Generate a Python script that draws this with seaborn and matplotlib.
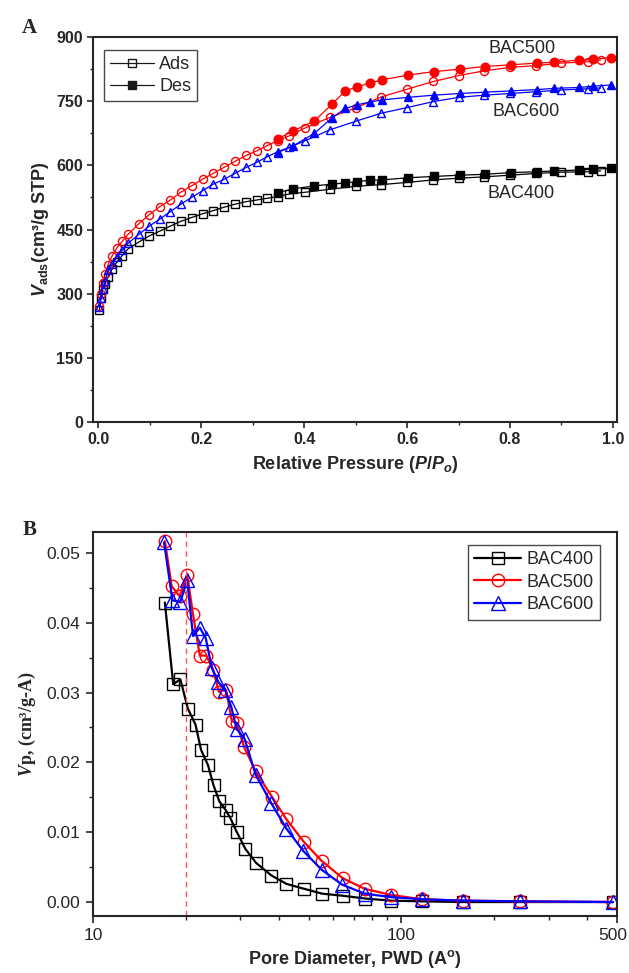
import matplotlib
matplotlib.use("Agg")
import matplotlib.pyplot as plt
import matplotlib.transforms as mtransforms
from matplotlib.lines import Line2D
from matplotlib.ticker import MultipleLocator, FixedLocator, NullFormatter, FormatStrFormatter, FuncFormatter
import seaborn as sns
import numpy as np

# ---------------- Panel A data (N2 isotherms) ----------------
ads_x = [0.002, 0.005, 0.008, 0.013, 0.019, 0.027, 0.036, 0.046, 0.058, 0.079, 0.099,
         0.119, 0.140, 0.160, 0.181, 0.203, 0.223, 0.244, 0.265, 0.287, 0.308, 0.328,
         0.349, 0.371, 0.401, 0.450, 0.500, 0.550, 0.600, 0.651, 0.701, 0.750, 0.800,
         0.850, 0.899, 0.951, 0.976]
bac400_ads = [261, 290, 312, 323, 340, 358, 374, 389, 405, 421, 435, 446, 458, 469, 478,
              487, 494, 502, 509, 515, 519, 523, 527, 533, 537, 544, 551, 555, 560, 566,
              570, 573, 577, 581, 584, 585, 587]
bac500_ads = [272, 300, 326, 345, 368, 389, 407, 422, 439, 464, 485, 503, 519, 537, 552,
              568, 581, 595, 609, 623, 634, 646, 658, 669, 687, 712, 734, 760, 778, 796,
              810, 821, 829, 833, 839, 842, 846]
bac600_ads = [270, 289, 310, 330, 355, 369, 386, 401, 418, 439, 458, 474, 492, 509, 525,
              541, 556, 567, 581, 595, 607, 620, 632, 642, 657, 683, 703, 722, 735, 749,
              759, 764, 768, 772, 776, 779, 781]

des_x = [0.349, 0.378, 0.420, 0.454, 0.480, 0.502, 0.527, 0.552, 0.602, 0.652, 0.703,
         0.751, 0.801, 0.852, 0.886, 0.934, 0.962, 0.997]
bac400_des = [536, 545, 552, 556, 559, 562, 565, 566, 571, 574, 577, 579, 583, 585, 587,
              589, 591, 593]
bac500_des = [662, 680, 704, 743, 774, 783, 792, 800, 811, 819, 825, 831, 835, 839, 841,
              846, 848, 852]
bac600_des = [630, 645, 675, 711, 733, 741, 748, 753, 759, 764, 768, 771, 774, 777, 780,
              782, 785, 788]

# ---------------- Panel B data (pore size distribution) ----------------
pwd_400 = [17.1, 18.2, 19.2, 20.3, 21.5, 22.4, 23.6, 24.6, 25.7, 26.9, 27.9, 29.2, 31.2,
           33.8, 37.9, 42.4, 48.3, 55.3, 64.6, 76.4, 92.7, 117, 158, 243, 485]
vp_400 = [0.0429, 0.0312, 0.0319, 0.0277, 0.0254, 0.0218, 0.0196, 0.0167, 0.0144, 0.0132,
          0.0120, 0.0101, 0.0076, 0.0056, 0.0038, 0.0026, 0.0019, 0.0012, 0.0009, 0.0005,
          0.0002, 0.0001, 0.0000, 0.0000, 0.0000]
pwd_500 = [17.1, 18.0, 19.1, 20.2, 21.1, 22.2, 23.3, 24.5, 25.6, 27.0, 28.2, 29.2, 30.9,
           33.7, 38.0, 42.3, 48.3, 55.1, 64.6, 76.0, 92.7, 117, 158, 243, 485]
vp_500 = [0.0517, 0.0452, 0.0438, 0.0469, 0.0412, 0.0353, 0.0353, 0.0333, 0.0301, 0.0304,
          0.0259, 0.0257, 0.0222, 0.0187, 0.0151, 0.0119, 0.0086, 0.0059, 0.0034, 0.0019,
          0.0010, 0.0004, 0.0002, 0.0001, 0.0000]
pwd_600 = [17.0, 18.1, 19.2, 20.2, 21.1, 22.2, 23.2, 24.3, 25.5, 26.8, 28.1, 29.2, 31.0,
           33.7, 37.8, 42.4, 48.1, 55.2, 64.2, 76.0, 92.7, 117, 158, 243, 485]
vp_600 = [0.0515, 0.0432, 0.0430, 0.0461, 0.0381, 0.0393, 0.0378, 0.0335, 0.0315, 0.0304,
          0.0279, 0.0248, 0.0234, 0.0182, 0.0142, 0.0105, 0.0073, 0.0046, 0.0025, 0.0012,
          0.0007, 0.0004, 0.0002, 0.0001, 0.0000]
dashed_x = 20
b_xticks = [10, 100, 500]

# ---------------- style ----------------
sns.set_theme(style="ticks")
plt.rcParams['font.family'] = ['Liberation Sans', 'DejaVu Sans']
plt.rcParams['mathtext.fontset'] = 'custom'
plt.rcParams['mathtext.rm'] = 'Liberation Sans:bold'
plt.rcParams['mathtext.it'] = 'Liberation Sans:italic:bold'
plt.rcParams['mathtext.bf'] = 'Liberation Sans:bold'
plt.rcParams['mathtext.sf'] = 'Liberation Serif:italic:bold'
plt.rcParams['axes.linewidth'] = 1.5

fig = plt.figure(figsize=(6.29, 9.73), dpi=100)
axA = fig.add_axes([93/629, 1-422/973, 524/629, 385/973])
axB = fig.add_axes([93/629, 1-916/973, 524/629, 384/973])

RED, BLUE, BLACK = '#ff0000', '#0000ff', '#000000'

def series(ax, x, y, color, marker, filled, ms, lw):
    sns.lineplot(x=x, y=y, ax=ax, color=color, lw=lw, marker=marker, ms=ms,
                 markerfacecolor=(color if filled else 'none'),
                 markeredgecolor=color, markeredgewidth=1.0,
                 errorbar=None, estimator=None, sort=False, legend=False)

# Panel A
for yv, c, m in [(bac400_ads, BLACK, 's'), (bac500_ads, RED, 'o'), (bac600_ads, BLUE, '^')]:
    series(axA, ads_x, yv, c, m, False, 5.8, 0.9)
for yv, c, m in [(bac400_des, BLACK, 's'), (bac500_des, RED, 'o'), (bac600_des, BLUE, '^')]:
    series(axA, des_x, yv, c, m, True, 6.2, 0.9)

axA.set_xlim(-0.0105, 1.008)
axA.set_ylim(0, 900)
axA.xaxis.set_major_locator(MultipleLocator(0.2))
axA.xaxis.set_minor_locator(MultipleLocator(0.1))
axA.xaxis.set_major_formatter(FormatStrFormatter('%.1f'))
axA.yaxis.set_major_locator(MultipleLocator(150))
axA.yaxis.set_minor_locator(MultipleLocator(75))
axA.tick_params(which='major', direction='out', length=4, width=1.2, labelsize=11.5, pad=3)
axA.tick_params(which='minor', direction='out', length=2.5, width=1.0)
for lab in axA.get_xticklabels() + axA.get_yticklabels():
    lab.set_fontweight('bold')
axA.set_xlabel(r"Relative Pressure ($\mathit{P/P}_{\mathit{o}}$)", fontsize=13,
               fontweight='bold', labelpad=5)
axA.set_ylabel(r"$\mathit{V}_{\mathrm{ads}}$(cm³/g STP)", fontsize=13,
               fontweight='bold', labelpad=4)
axA.text(0.823, 872, "BAC500", fontsize=13, ha='center', va='center')
axA.text(0.831, 725, "BAC600", fontsize=13, ha='center', va='center')
axA.text(0.822, 533, "BAC400", fontsize=13, ha='center', va='center')

hA = [Line2D([], [], color='k', lw=0.9, marker='s', ms=6, mfc='none', mec='k'),
      Line2D([], [], color='k', lw=0.9, marker='s', ms=6, mfc='k', mec='k')]
legA = axA.legend(hA, ['Ads', 'Des'], loc='upper left', bbox_to_anchor=(0.021, 0.966),
                  borderaxespad=0, fontsize=13, frameon=True, fancybox=False,
                  edgecolor='k', handlelength=2.4, handletextpad=0.3,
                  borderpad=0.35, labelspacing=0.25)
legA.get_frame().set_linewidth(1.0)

# Panel B
series(axB, pwd_400, vp_400, BLACK, 's', False, 8.5, 1.6)
series(axB, pwd_500, vp_500, RED, 'o', False, 9, 1.6)
series(axB, pwd_600, vp_600, BLUE, '^', False, 9.5, 1.6)
axB.axvline(dashed_x, color='#ff5555', lw=1.0, ls=(0, (4, 3)))

axB.set_xscale('log')
axB.set_xlim(10, 500)
axB.set_ylim(-0.002, 0.053)
axB.xaxis.set_major_locator(FixedLocator(b_xticks))
axB.xaxis.set_major_formatter(FuncFormatter(lambda v, p: f"{v:g}"))
axB.xaxis.set_minor_locator(FixedLocator([20, 30, 40, 50, 60, 70, 80, 90, 200, 300, 400]))
axB.xaxis.set_minor_formatter(NullFormatter())
axB.yaxis.set_major_locator(MultipleLocator(0.01))
axB.yaxis.set_minor_locator(MultipleLocator(0.005))
axB.yaxis.set_major_formatter(FormatStrFormatter('%.2f'))
axB.tick_params(which='major', direction='out', length=5, width=1.2, labelsize=12.5, pad=4)
axB.tick_params(which='minor', direction='out', length=3, width=1.0)
axB.set_xlabel(r"Pore Diameter, PWD (A$^{\mathrm{o}}$)", fontsize=13, fontweight='bold',
               labelpad=3)
axB.set_ylabel(r"$\mathsf{V}$p, (cm³/g-A)", fontsize=13, fontweight='bold',
               family=['Liberation Serif', 'DejaVu Serif'], labelpad=6)

hB = [Line2D([], [], color=BLACK, lw=1.6, marker='s', ms=8.5, mfc='none', mec=BLACK),
      Line2D([], [], color=RED, lw=1.6, marker='o', ms=9, mfc='none', mec=RED),
      Line2D([], [], color=BLUE, lw=1.6, marker='^', ms=9.5, mfc='none', mec=BLUE)]
legB = axB.legend(hB, ['BAC400', 'BAC500', 'BAC600'], loc='upper right',
                  bbox_to_anchor=(0.968, 0.966), borderaxespad=0, fontsize=13,
                  frameon=True, fancybox=False, edgecolor='k', handlelength=2.6,
                  handletextpad=0.3, borderpad=0.35, labelspacing=0.3)
legB.get_frame().set_linewidth(1.0)

fig.text(29/629, 1-28/973, "A", fontsize=15, fontweight='bold',
         family=['Liberation Serif', 'DejaVu Serif'], ha='center', va='center')
fig.text(30/629, 1-530/973, "B", fontsize=15, fontweight='bold',
         family=['Liberation Serif', 'DejaVu Serif'], ha='center', va='center')

# keep the "500" label inside the figure (it sits flush with the right edge)
fig.canvas.draw()
last = axB.xaxis.get_major_ticks()[-1].label1
last.set_horizontalalignment('right')
last.set_transform(last.get_transform() +
                   mtransforms.ScaledTranslation(10/100, 0, fig.dpi_scale_trans))

fig.savefig("out.png", dpi=100, facecolor='white')
